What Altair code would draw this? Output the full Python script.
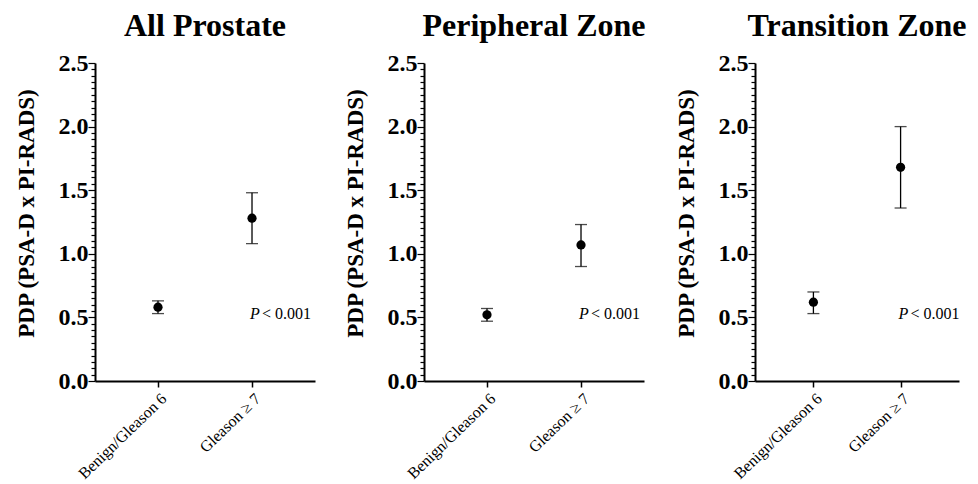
import altair as alt
import pandas as pd

panel_titles = ["All Prostate", "Peripheral Zone", "Transition Zone"]
groups = ["Benign/Gleason 6", "Gleason \u2265 7"]

all_mean = [0.58, 1.28]
all_low = [0.53, 1.08]
all_high = [0.63, 1.48]

pz_mean = [0.52, 1.07]
pz_low = [0.47, 0.90]
pz_high = [0.57, 1.23]

tz_mean = [0.62, 1.68]
tz_low = [0.53, 1.36]
tz_high = [0.70, 2.00]

p_label_y = [0.53, 0.53, 0.53]
p_text = "< 0.001"

y_ticks = [round(i * 0.05, 2) for i in range(51)]
FONT = "Liberation Serif"
MAJOR = "abs(datum.value*2 - round(datum.value*2)) < 0.001"


def panel(title, mean, low, high, py, width):
    df = pd.DataFrame({"group": groups, "mean": mean, "low": low, "high": high})
    x = alt.X(
        "group:N",
        sort=groups,
        scale=alt.Scale(type="point", padding=0.67),
        axis=alt.Axis(
            title=None,
            labelAngle=-44,
            labelFont=FONT,
            labelFontSize=16,
            labelColor="black",
            domainColor="black",
            domainWidth=2,
            tickColor="black",
            tickWidth=1.5,
            tickSize=6,
            labelPadding=3,
        ),
    )
    yscale = alt.Scale(domain=[0, 2.5], nice=False)
    yaxis = alt.Axis(
        title="PDP (PSA-D x PI-RADS)",
        titleFont=FONT,
        titleFontSize=23,
        titleFontWeight="bold",
        titleColor="black",
        titlePadding=20,
        titleY=150,
        values=y_ticks,
        labelExpr=MAJOR + " ? format(datum.value, '.1f') : ''",
        labelOverlap=False,
        labelBound=False,
        labelFont=FONT,
        labelFontSize=24,
        labelFontWeight="bold",
        labelColor="black",
        labelPadding=0,
        domainColor="black",
        domainWidth=2,
        tickColor="black",
        tickWidth=1.2,
        tickSize={"condition": {"test": MAJOR, "value": 7}, "value": 4},
        grid=False,
    )
    base = alt.Chart(df)
    rule = base.mark_rule(color="black", strokeWidth=1.3).encode(
        x=x, y=alt.Y("low:Q", scale=yscale, axis=yaxis), y2="high:Q"
    )
    cap_lo = base.mark_tick(color="black", thickness=1.3, size=12).encode(
        x=x, y=alt.Y("low:Q", scale=yscale, axis=yaxis)
    )
    cap_hi = base.mark_tick(color="black", thickness=1.3, size=12).encode(
        x=x, y=alt.Y("high:Q", scale=yscale, axis=yaxis)
    )
    pts = base.mark_circle(color="black", opacity=1, size=85).encode(
        x=x, y=alt.Y("mean:Q", scale=yscale, axis=yaxis)
    )
    pdf = pd.DataFrame({"group": [groups[1]], "py": [py], "t": [p_text]})
    pbase = alt.Chart(pdf)
    ptxt1 = pbase.mark_text(
        text="P", font=FONT, fontSize=16, fontStyle="italic", align="left",
        baseline="middle", dx=-2, color="black"
    ).encode(x=x, y=alt.Y("py:Q", scale=yscale, axis=yaxis))
    ptxt2 = pbase.mark_text(
        font=FONT, fontSize=16, align="left", baseline="middle", dx=10, color="black"
    ).encode(x=x, y=alt.Y("py:Q", scale=yscale, axis=yaxis), text="t:N")
    return alt.layer(rule, cap_lo, cap_hi, pts, ptxt1, ptxt2).properties(
        width=width,
        height=318,
        title=alt.TitleParams(
            title, font=FONT, fontSize=32, fontWeight="bold", color="black",
            anchor="middle", offset=8
        ),
    )


chart = alt.hconcat(
    panel(panel_titles[0], all_mean, all_low, all_high, p_label_y[0], 220),
    panel(panel_titles[1], pz_mean, pz_low, pz_high, p_label_y[1], 220),
    panel(panel_titles[2], tz_mean, tz_low, tz_high, p_label_y[2], 204),
    spacing=28,
).properties(
    padding={"left": 6, "right": 0, "top": 2, "bottom": 0},
    background="white",
).configure_view(stroke=None)

chart.save("out.html", embed_options={"renderer": "svg", "actions": False})
